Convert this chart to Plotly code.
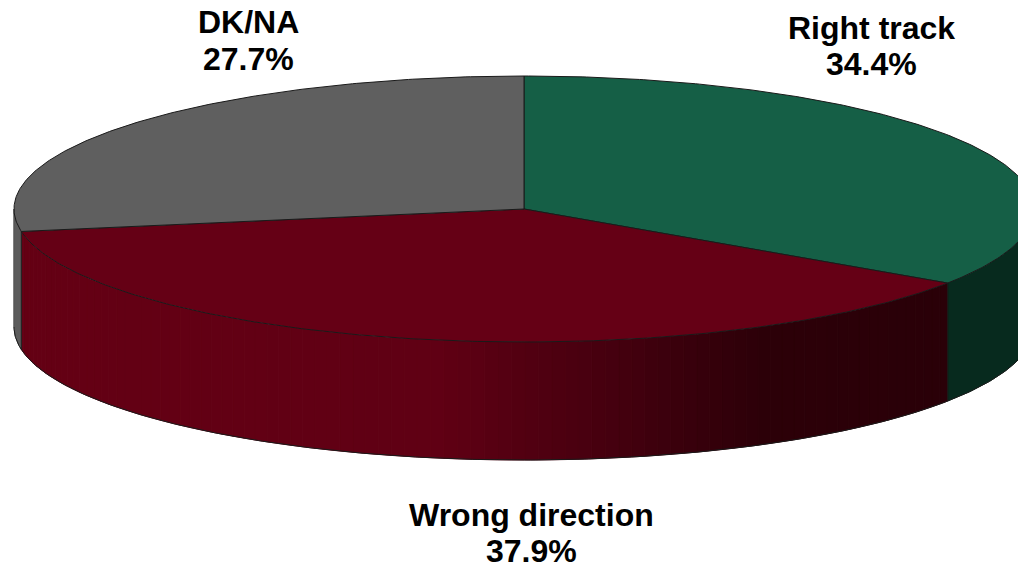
import numpy as np
import plotly.graph_objects as go

# Data
categories = ["Right track", "Wrong direction", "DK/NA"]
values = [34.4, 37.9, 27.7]
top_colors = ["#155F46", "#650015", "#5F5F5F"]
side_colors = ["#072A1E", "#650015", "#5C5C5C"]
label_x = [871, 531, 248]
label_name_y = [28, 515, 22]
label_value_y = [64, 551, 59]

# Side shading for the wrong-direction band: x position share -> brightness
shade_pos = [0.0, 0.45, 0.62, 0.80, 1.0]
shade_rgb = [(101, 0, 21), (96, 0, 20), (72, 0, 16), (45, 0, 9), (42, 0, 8)]

# Pie geometry (pixels)
W, H = 1018, 566
CX, CY, RX, RY, DEPTH = 524, 209, 510, 133, 118
EDGE = "#1a1a1a"


def arc(a0, a1, dy=0.0, n=None):
    """Arc between clockwise-from-top angles (degrees)."""
    n = n or max(2, int(abs(a1 - a0) * 2))
    t = np.radians(np.linspace(a0, a1, n))
    return CX + RX * np.sin(t), CY - RY * np.cos(t) + dy


def band(a0, a1):
    x0, y0 = arc(a0, a1)
    x1, y1 = arc(a1, a0, DEPTH)
    return np.r_[x0, x1, x0[0]], np.r_[y0, y1, y0[0]]


def poly(x, y, fill, line=None, width=1):
    return go.Scatter(
        x=x, y=y, mode="lines", fill="toself", fillcolor=fill,
        line=dict(color=line or fill, width=width), hoverinfo="skip", showlegend=False,
    )


fig = go.Figure()

shares = np.array(values) / sum(values) * 360
ends = np.cumsum(shares)
starts = ends - shares

# Side walls (only the front half, 90..270 degrees, is visible)
for i, (s, e) in enumerate(zip(starts, ends)):
    lo, hi = max(s, 90), min(e, 270)
    if hi <= lo:
        continue
    if categories[i] == "Wrong direction":
        edges = np.linspace(lo, hi, 91)
        xl, xr = arc(hi, hi)[0][0], arc(lo, lo)[0][0]
        for a, b in zip(edges[:-1], edges[1:]):
            xm = CX + RX * np.sin(np.radians((a + b) / 2))
            p = (xm - xl) / (xr - xl)
            col = [np.interp(p, shade_pos, [c[k] for c in shade_rgb]) for k in range(3)]
            css = "rgb(%d,%d,%d)" % tuple(col)
            fig.add_trace(poly(*band(a, b), css))
    else:
        fig.add_trace(poly(*band(lo, hi), side_colors[i]))

# Wall outline pieces
xb, yb = arc(90, 270, DEPTH)
fig.add_trace(go.Scatter(x=xb, y=yb, mode="lines", line=dict(color=EDGE, width=1),
                         hoverinfo="skip", showlegend=False))
for a in ends:
    if 90 < a < 270:
        xa, ya = arc(a, a, 0, 2)
        fig.add_trace(go.Scatter(x=[xa[0], xa[0]], y=[ya[0], ya[0] + DEPTH], mode="lines",
                                 line=dict(color=EDGE, width=1), hoverinfo="skip", showlegend=False))
xl0, yl0 = arc(270, 270, 0, 2)
fig.add_trace(go.Scatter(x=[xl0[0], xl0[0]], y=[yl0[0], yl0[0] + DEPTH], mode="lines",
                         line=dict(color="#555555", width=1), hoverinfo="skip", showlegend=False))

# Top face slices
for i, (s, e) in enumerate(zip(starts, ends)):
    x, y = arc(s, e)
    fig.add_trace(poly(np.r_[CX, x, CX], np.r_[CY, y, CY], top_colors[i], EDGE, 1))

font = dict(family="Liberation Sans, Arial, sans-serif", size=32, color="black", weight="bold")
annotations = []
for c, v, px, ny, vy in zip(categories, values, label_x, label_name_y, label_value_y):
    annotations.append(dict(x=px, y=ny, xref="x", yref="y", showarrow=False, text=c, font=font))
    annotations.append(dict(x=px, y=vy, xref="x", yref="y", showarrow=False, text=f"{v}%", font=font))

fig.update_layout(
    width=W, height=H, margin=dict(l=0, r=0, t=0, b=0),
    paper_bgcolor="white", plot_bgcolor="white", showlegend=False,
    xaxis=dict(range=[0, W], visible=False, fixedrange=True),
    yaxis=dict(range=[H, 0], visible=False, fixedrange=True),
    annotations=annotations,
)
fig.write_html("out.html", config={"displayModeBar": False},
               post_script="document.body.style.margin='0';document.documentElement.style.overflow='hidden';")
